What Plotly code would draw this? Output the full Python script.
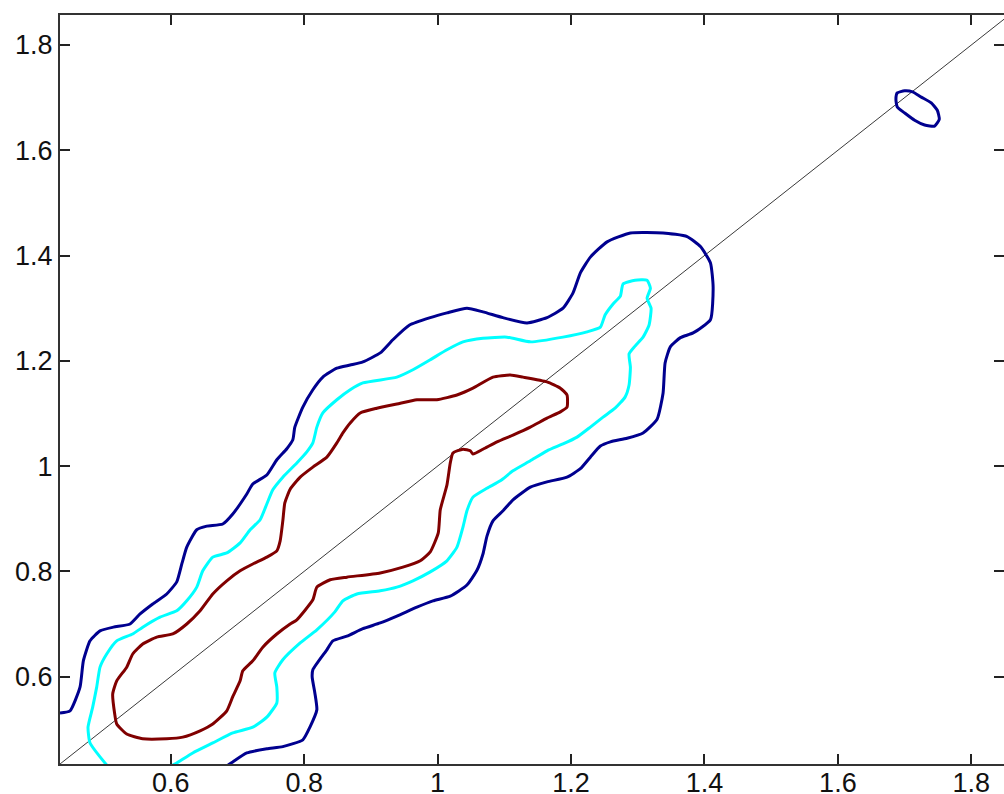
import plotly.graph_objects as go

# Axis limits (data units)
x_range = [0.434, 1.849]
y_range = [0.434, 1.857]
tick_vals = [0.6, 0.8, 1.0, 1.2, 1.4, 1.6, 1.8]
tick_text = ["0.6", "0.8", "1", "1.2", "1.4", "1.6", "1.8"]

# Reference line y = x
diag_x = [0.434, 1.86]
diag_y = [0.434, 1.86]

# Outer contour (dark blue), open path crossing the axes limits
outer_x = [0.434, 0.449, 0.464, 0.469, 0.479, 0.494, 0.514, 0.539, 0.554, 0.573, 0.594,
           0.609, 0.617, 0.624, 0.639, 0.654, 0.678, 0.693, 0.714, 0.723, 0.744, 0.759,
           0.774, 0.783, 0.786, 0.798, 0.813, 0.828, 0.849, 0.869, 0.888, 0.914, 0.933,
           0.958, 0.989, 1.014, 1.044, 1.068, 1.098, 1.134, 1.164, 1.188, 1.203, 1.214,
           1.229, 1.254, 1.289, 1.338, 1.374, 1.394, 1.409, 1.413, 1.409, 1.383, 1.364,
           1.349, 1.341, 1.338, 1.329, 1.308, 1.284, 1.259, 1.244, 1.229, 1.214, 1.194,
           1.164, 1.139, 1.113, 1.098, 1.083, 1.074, 1.068, 1.059, 1.044, 1.019, 0.993,
           0.969, 0.939, 0.914, 0.888, 0.864, 0.843, 0.834, 0.813, 0.812, 0.816, 0.819,
           0.809, 0.798, 0.768, 0.744, 0.714, 0.693, 0.686]
outer_y = [0.531, 0.535, 0.580, 0.630, 0.668, 0.687, 0.694, 0.700, 0.719, 0.738, 0.757,
           0.780, 0.816, 0.846, 0.879, 0.886, 0.890, 0.909, 0.947, 0.966, 0.983, 1.012,
           1.033, 1.050, 1.074, 1.112, 1.145, 1.169, 1.186, 1.192, 1.198, 1.215, 1.240,
           1.268, 1.282, 1.291, 1.300, 1.293, 1.282, 1.272, 1.282, 1.300, 1.329, 1.367,
           1.397, 1.426, 1.443, 1.443, 1.436, 1.417, 1.386, 1.340, 1.278, 1.253, 1.244,
           1.227, 1.196, 1.139, 1.089, 1.063, 1.053, 1.046, 1.038, 1.017, 0.995, 0.979,
           0.970, 0.960, 0.936, 0.915, 0.896, 0.867, 0.833, 0.802, 0.774, 0.753, 0.744,
           0.732, 0.715, 0.702, 0.691, 0.677, 0.668, 0.651, 0.613, 0.599, 0.569, 0.537,
           0.505, 0.480, 0.467, 0.463, 0.455, 0.438, 0.432]

# Small isolated outer-level contour near the top right
island_x = [1.689, 1.700, 1.712, 1.725, 1.740, 1.749, 1.752, 1.745, 1.730, 1.715, 1.700,
            1.689, 1.687, 1.689]
island_y = [1.709, 1.713, 1.711, 1.701, 1.690, 1.676, 1.659, 1.646, 1.648, 1.657, 1.671,
            1.682, 1.697, 1.709]

# Middle contour (cyan), open path
mid_x = [0.504, 0.479, 0.476, 0.483, 0.489, 0.494, 0.504, 0.519, 0.543, 0.558, 0.584,
         0.609, 0.624, 0.639, 0.648, 0.663, 0.684, 0.704, 0.719, 0.734, 0.744, 0.753,
         0.768, 0.789, 0.804, 0.813, 0.819, 0.828, 0.849, 0.869, 0.888, 0.939, 0.963,
         0.989, 1.014, 1.038, 1.068, 1.104, 1.139, 1.188, 1.224, 1.244, 1.251, 1.263,
         1.274, 1.278, 1.296, 1.314, 1.319, 1.314, 1.320, 1.317, 1.308, 1.296, 1.287,
         1.289, 1.287, 1.281, 1.266, 1.248, 1.229, 1.209, 1.188, 1.164, 1.139, 1.113,
         1.094, 1.074, 1.053, 1.044, 1.038, 1.029, 1.014, 0.989, 0.963, 0.939, 0.914,
         0.879, 0.858, 0.846, 0.819, 0.794, 0.768, 0.756, 0.759, 0.759, 0.744, 0.723,
         0.693, 0.663, 0.633, 0.609, 0.603]
mid_y = [0.432, 0.474, 0.504, 0.542, 0.580, 0.618, 0.643, 0.668, 0.681, 0.694, 0.713,
         0.725, 0.744, 0.770, 0.801, 0.827, 0.835, 0.854, 0.879, 0.898, 0.928, 0.955,
         0.979, 1.006, 1.027, 1.044, 1.074, 1.101, 1.126, 1.145, 1.158, 1.169, 1.183,
         1.202, 1.221, 1.236, 1.243, 1.245, 1.236, 1.245, 1.255, 1.264, 1.287, 1.308,
         1.323, 1.346, 1.353, 1.353, 1.338, 1.319, 1.300, 1.268, 1.245, 1.228, 1.213,
         1.188, 1.154, 1.131, 1.110, 1.093, 1.074, 1.055, 1.042, 1.029, 1.010, 0.991,
         0.972, 0.958, 0.941, 0.915, 0.884, 0.846, 0.820, 0.799, 0.782, 0.770, 0.763,
         0.757, 0.744, 0.723, 0.689, 0.664, 0.632, 0.607, 0.580, 0.550, 0.523, 0.504,
         0.493, 0.474, 0.455, 0.436, 0.432]

# Inner contour (dark red), closed loop
inner_x = [0.513, 0.519, 0.534, 0.543, 0.558, 0.579, 0.603, 0.624, 0.644, 0.663, 0.684,
           0.704, 0.723, 0.744, 0.759, 0.764, 0.768, 0.771, 0.779, 0.794, 0.813, 0.834,
           0.849, 0.858, 0.869, 0.884, 0.909, 0.939, 0.969, 0.999, 1.029, 1.053, 1.083,
           1.109, 1.128, 1.164, 1.184, 1.194, 1.194, 1.184, 1.164, 1.139, 1.113, 1.089,
           1.068, 1.053, 1.049, 1.038, 1.023, 1.019, 1.014, 1.004, 1.001, 0.989, 0.974,
           0.948, 0.914, 0.864, 0.839, 0.819, 0.813, 0.789, 0.779, 0.759, 0.738, 0.723,
           0.708, 0.704, 0.693, 0.684, 0.663, 0.644, 0.618, 0.594, 0.558, 0.534, 0.519,
           0.516, 0.513]
inner_y = [0.567, 0.592, 0.618, 0.643, 0.662, 0.675, 0.681, 0.700, 0.725, 0.757, 0.782,
           0.801, 0.814, 0.827, 0.839, 0.858, 0.896, 0.930, 0.956, 0.979, 0.998, 1.017,
           1.044, 1.063, 1.082, 1.101, 1.110, 1.118, 1.126, 1.126, 1.135, 1.148, 1.169,
           1.173, 1.169, 1.160, 1.148, 1.135, 1.112, 1.103, 1.091, 1.074, 1.059, 1.046,
           1.032, 1.023, 1.029, 1.032, 1.025, 1.006, 0.964, 0.917, 0.873, 0.837, 0.820,
           0.808, 0.797, 0.789, 0.784, 0.770, 0.746, 0.708, 0.700, 0.681, 0.656, 0.630,
           0.611, 0.592, 0.562, 0.535, 0.510, 0.497, 0.485, 0.482, 0.482, 0.491, 0.510,
           0.529, 0.567]

navy = "#00008F"
cyan = "#00FFFF"
darkred = "#800000"

line_shape = dict(shape="spline", smoothing=0.5)

fig = go.Figure()
fig.add_trace(go.Scatter(x=diag_x, y=diag_y, mode="lines",
                         line=dict(color="#3a3a3a", width=1), hoverinfo="skip"))
fig.add_trace(go.Scatter(x=outer_x, y=outer_y, mode="lines",
                         line=dict(color=navy, width=3, **line_shape)))
fig.add_trace(go.Scatter(x=island_x, y=island_y, mode="lines",
                         line=dict(color=navy, width=3, **line_shape)))
fig.add_trace(go.Scatter(x=mid_x, y=mid_y, mode="lines",
                         line=dict(color=cyan, width=3, **line_shape)))
fig.add_trace(go.Scatter(x=inner_x, y=inner_y, mode="lines",
                         line=dict(color=darkred, width=3, **line_shape)))

tick_font = dict(family="Arial, Liberation Sans, sans-serif", size=27, color="#111")

fig.update_xaxes(
    range=x_range, tickvals=tick_vals, ticktext=tick_text, automargin=False,
    ticks="inside", ticklen=10, tickwidth=1.5, tickcolor="#222",
    showline=True, linecolor="#333", linewidth=2, mirror="ticks",
    showgrid=False, zeroline=False, tickfont=tick_font, ticklabelstandoff=-6,
)
fig.update_yaxes(
    range=y_range, tickvals=tick_vals, ticktext=tick_text, automargin=False,
    ticks="inside", ticklen=10, tickwidth=1.5, tickcolor="#222",
    showline=True, linecolor="#333", linewidth=2, mirror="ticks",
    showgrid=False, zeroline=False, tickfont=tick_font, ticklabelstandoff=0,
)

fig.update_layout(
    width=1004, height=794,
    margin=dict(l=60, r=0, t=15, b=30),
    paper_bgcolor="white", plot_bgcolor="white",
    showlegend=False,
)

# Remove the default page margin so the figure fills the window exactly.
fig.write_html("out.html",
               config={"displayModeBar": False},
               post_script="document.body.style.margin='0';document.body.style.overflow='hidden';")
